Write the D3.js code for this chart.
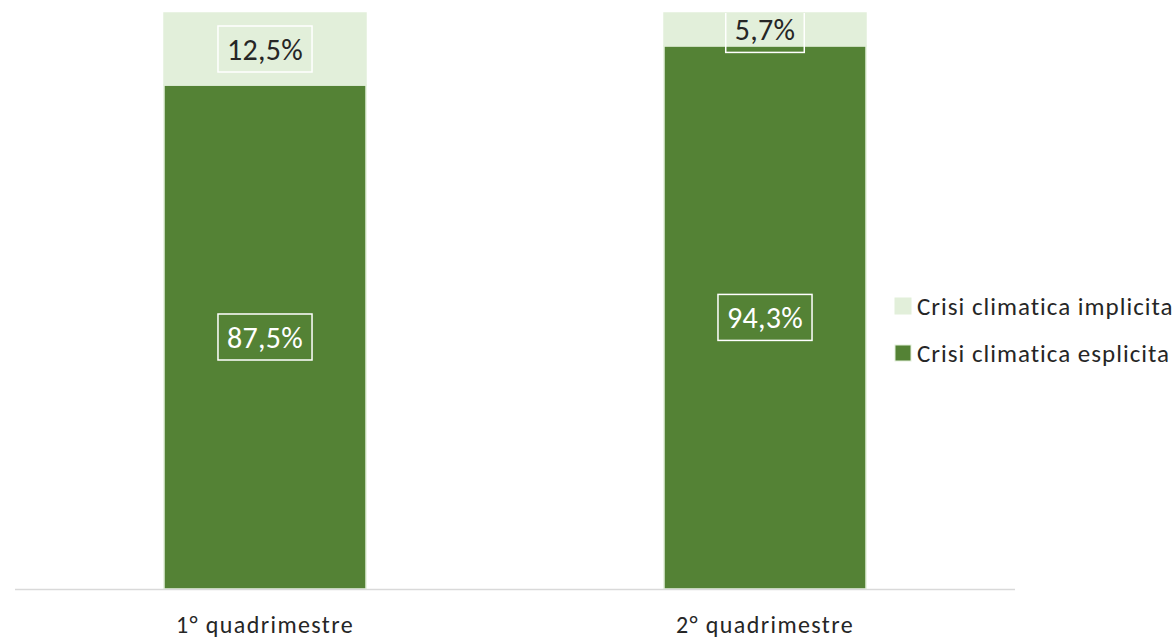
<!DOCTYPE html>
<html>
<head>
<meta charset="utf-8">
<script src="https://cdn.jsdelivr.net/npm/d3@7"></script>
<style>
  body { margin: 0; background: #fff; }
  svg { display: block; font-family: Carlito, Calibri, Lato, sans-serif; }
</style>
</head>
<body>
<div id="chart"></div>
<script>
// Data
const categories = ['1° quadrimestre', '2° quadrimestre'];
const seriesNames = ['Crisi climatica esplicita', 'Crisi climatica implicita'];
const esplicita = [87.5, 94.3];
const implicita = [12.5, 5.7];

const colors = { 'Crisi climatica esplicita': '#548235', 'Crisi climatica implicita': '#e2efda' };
const labelColors = { 'Crisi climatica esplicita': '#ffffff', 'Crisi climatica implicita': '#262626' };

const width = 1175;
const height = 640;
const plot = { left: 15, right: 1015, top: 13, bottom: 589 };

const fmt = v => d3.format('.1f')(v).replace('.', ',') + '%';

// Stack rows
const rows = categories.map((c, i) => ({
  category: c,
  'Crisi climatica esplicita': esplicita[i],
  'Crisi climatica implicita': implicita[i]
}));
const stacked = d3.stack().keys(seriesNames)(rows);

const x = d3.scaleBand()
    .domain(categories)
    .range([plot.left, plot.right])
    .paddingInner(0.596)
    .paddingOuter(0.298);

const y = d3.scaleLinear()
    .domain([0, 100])
    .range([plot.bottom, plot.top]);

const svg = d3.select('#chart').append('svg')
    .attr('width', width)
    .attr('height', height);

svg.append('clipPath')
    .attr('id', 'plot-clip')
  .append('rect')
    .attr('x', 0)
    .attr('y', plot.top)
    .attr('width', width)
    .attr('height', plot.bottom - plot.top + 40);

// Bars
const layers = svg.append('g')
  .selectAll('g')
    .data(stacked)
  .enter().append('g')
    .attr('fill', d => colors[d.key]);

layers.selectAll('rect')
    .data(d => d)
  .enter().append('rect')
    .attr('x', d => x(d.data.category))
    .attr('y', d => y(d[1]))
    .attr('width', x.bandwidth())
    .attr('height', d => y(d[0]) - y(d[1]))
    .attr('stroke', '#e2efda')
    .attr('stroke-width', 1.5);

// Axis line
svg.append('line')
    .attr('x1', plot.left)
    .attr('x2', plot.right)
    .attr('y1', plot.bottom + 0.5)
    .attr('y2', plot.bottom + 0.5)
    .attr('stroke', '#d9d9d9')
    .attr('stroke-width', 1.5);

// Data labels with boxes
const labels = svg.append('g')
    .attr('clip-path', 'url(#plot-clip)');

stacked.forEach((layer) => {
  layer.forEach((d) => {
    const cx = x(d.data.category) + x.bandwidth() / 2;
    const cy = (y(d[0]) + y(d[1])) / 2;
    const g = labels.append('g');
    const t = g.append('text')
        .attr('x', cx)
        .attr('y', cy)
        .attr('dy', '0.36em')
        .attr('text-anchor', 'middle')
        .attr('font-size', 30)
        .attr('letter-spacing', 0.3)
        .attr('fill', labelColors[layer.key])
        .text(fmt(d.data[layer.key]));
    const w = t.node().getComputedTextLength() + 18;
    g.insert('rect', 'text')
        .attr('x', cx - w / 2)
        .attr('y', cy - 23)
        .attr('width', w)
        .attr('height', 46)
        .attr('fill', 'none')
        .attr('stroke', '#ffffff')
        .attr('stroke-width', 1.5);
  });
});

// Category labels
svg.append('g')
  .selectAll('text')
    .data(categories)
  .enter().append('text')
    .attr('x', d => x(d) + x.bandwidth() / 2)
    .attr('y', 633)
    .attr('text-anchor', 'middle')
    .attr('font-size', 24)
    .attr('letter-spacing', 1.4)
    .attr('fill', '#262626')
    .text(d => d);

// Legend (implicita on top)
const legendItems = seriesNames.slice().reverse();
const legend = svg.append('g')
  .selectAll('g')
    .data(legendItems)
  .enter().append('g')
    .attr('transform', (d, i) => `translate(895, ${298 + i * 47})`);

legend.append('rect')
    .attr('width', 16)
    .attr('height', 16)
    .attr('fill', d => colors[d])
    .attr('stroke', '#e2efda')
    .attr('stroke-width', 1);

legend.append('text')
    .attr('x', 22)
    .attr('y', 8)
    .attr('dy', '0.36em')
    .attr('font-size', 25)
    .attr('letter-spacing', 1)
    .attr('fill', '#262626')
    .text(d => d);
</script>
</body>
</html>
